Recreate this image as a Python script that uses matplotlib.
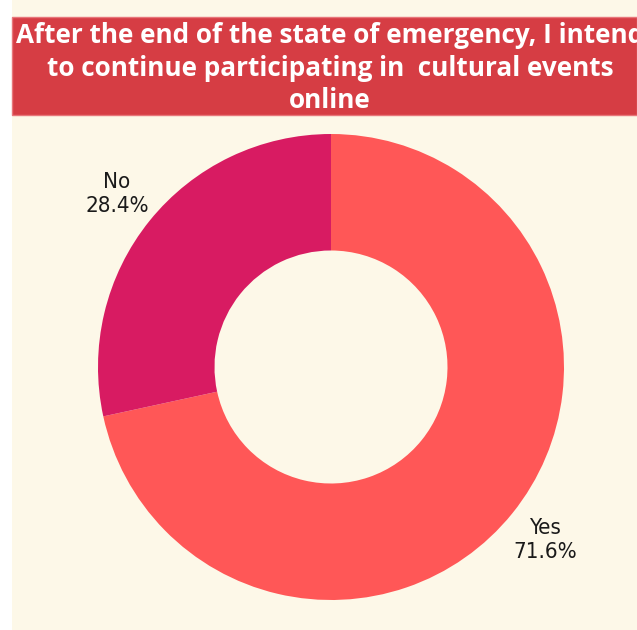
import matplotlib.pyplot as plt
from matplotlib.patches import Rectangle

# datos
categorias = ["Yes", "No"]
porcentajes = [71.6, 28.4]
colores = ["#FF5757", "#D81B62"]
titulo = "After the end of the state of emergency, I intend\nto continue participating in  cultural events\nonline"

W, H = 637, 630
fig = plt.figure(figsize=(W / 100, H / 100), dpi=100)
fig.patch.set_facecolor("white")

# fondo crema y banda del titulo
fig.patches.append(Rectangle((12 / W, 0), 1 - 12 / W, 1, transform=fig.transFigure,
                             facecolor="#FDF8E8", edgecolor="none", zorder=0))
fig.patches.append(Rectangle((12 / W, 1 - 115 / H), 1 - 12 / W, 98 / H, transform=fig.transFigure,
                             facecolor="#D63D44", edgecolor="#E8767A", linewidth=1, zorder=1))
fig.text(330 / W, 1 - 68 / H, titulo, ha="center", va="center", color="white",
         fontsize=18.8, fontweight="bold", family="Open Sans", linespacing=1.28, zorder=2)

# donut
cx, cy, r = 331, 367, 233
ax = fig.add_axes([(cx - r) / W, (H - cy - r) / H, 2 * r / W, 2 * r / H], zorder=3)
ax.set_facecolor("none")
etiquetas = [f"{c}\n{p}%" for c, p in zip(categorias, porcentajes)]
ax.pie(porcentajes, labels=etiquetas, colors=colores, startangle=90, counterclock=False,
       radius=1, labeldistance=1.18, wedgeprops=dict(width=0.5, linewidth=0),
       textprops=dict(ha="center", va="center", multialignment="center", fontsize=16,
                      color="#1A1A1A", family="DejaVu Sans", fontstretch="condensed",
                      linespacing=1.25))
ax.set_xlim(-1, 1)
ax.set_ylim(-1, 1)
ax.set_aspect("equal")
ax.axis("off")

fig.savefig("out.png", dpi=100, facecolor=fig.get_facecolor())
